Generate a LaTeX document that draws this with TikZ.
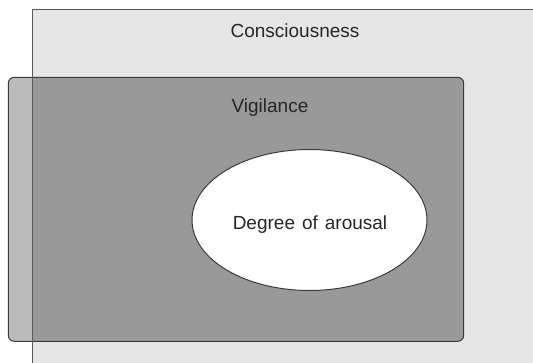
\documentclass[tikz,border=0pt]{standalone}
\usepackage{fontspec}
\setmainfont{Liberation Sans}
\definecolor{outerfill}{HTML}{E6E6E6}
\definecolor{innerfill}{HTML}{999999}
\definecolor{innerlight}{HTML}{BBBBBB}
\definecolor{edge}{HTML}{3A3A3A}
\tikzset{
  lbl/.style={anchor=base, inner sep=0pt, text=black!85, font=\fontsize{19}{21}\selectfont},
  edgeline/.style={draw=edge, line width=1pt}
}
\begin{document}
\begin{tikzpicture}[x=1pt, y=-1pt]
\useasboundingbox (0,0) rectangle (533,362);
\clip (0,0) rectangle (533,362);
% Consciousness (outer) area
\fill[outerfill] (32,9.5) rectangle (560,380);
% Vigilance box
\fill[innerfill, rounded corners=6pt] (8.3,77.3) rectangle (463.7,341.3);
\begin{scope}
  \clip (0,0) rectangle (32,362);
  \fill[innerlight, rounded corners=6pt] (8.3,77.3) rectangle (463.7,341.3);
\end{scope}
\draw[edgeline, rounded corners=6pt] (8.3,77.3) rectangle (463.7,341.3);
% outer border (left and top)
\draw[draw=black!65, line width=1pt] (32,380) -- (32,9.5) -- (560,9.5);
% Degree of arousal ellipse
\draw[edgeline, fill=white] (309.5,220) ellipse [x radius=117.5, y radius=70.5];
% labels
\node[lbl] (consc) at (295,37) {Consciousness};
\node[lbl] (vigil) at (270,112) {Vigilance};
\node[lbl] (arous) at (310,229) {Degree\hspace{7pt}of\hspace{7pt}arousal};
\end{tikzpicture}
\end{document}
